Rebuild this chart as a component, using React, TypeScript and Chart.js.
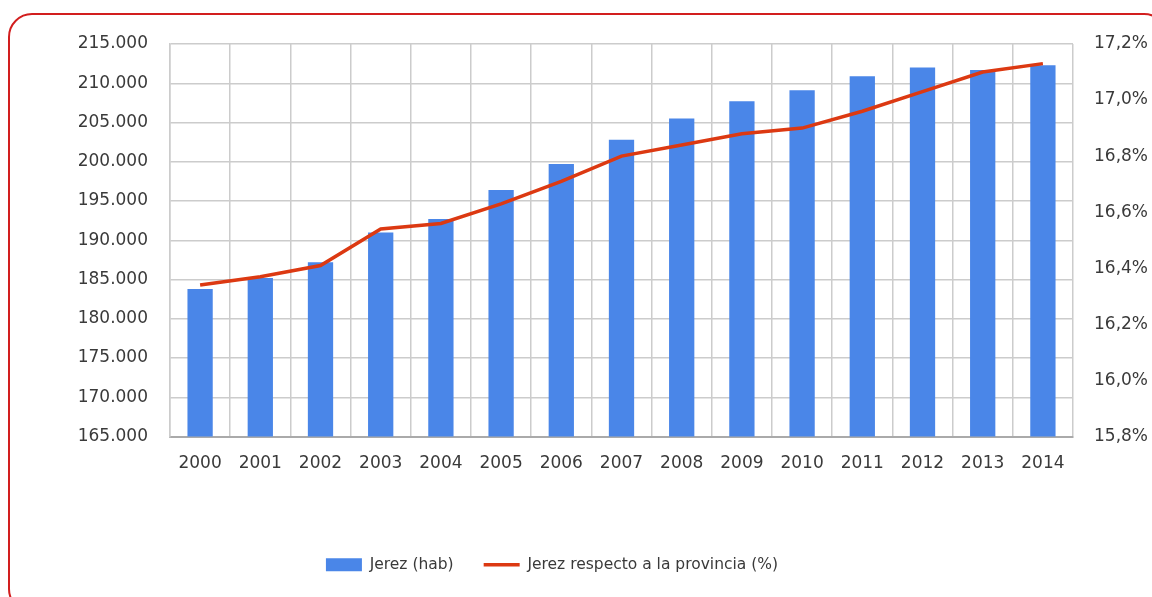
import { useEffect, useRef } from 'react';
import { Chart, registerables } from 'chart.js';

Chart.register(...registerables);

const years = ['2000', '2001', '2002', '2003', '2004', '2005', '2006', '2007', '2008', '2009', '2010', '2011', '2012', '2013', '2014'];
const population = [183800, 185200, 187200, 191000, 192700, 196400, 199700, 202800, 205500, 207700, 209100, 210900, 212000, 211700, 212300];
const sharePct = [16.34, 16.37, 16.41, 16.54, 16.56, 16.63, 16.71, 16.80, 16.84, 16.88, 16.90, 16.96, 17.03, 17.10, 17.13];

const popAxis = { min: 165000, max: 215000, step: 5000 };
const pctAxis = { min: 15.8, max: 17.2, step: 0.2 };

const seriesNames = ['Jerez (hab)', 'Jerez respecto a la provincia (%)'];

const BAR_COLOR = '#4a86e8';
const LINE_COLOR = '#dc3912';
const TEXT_COLOR = '#3a3a3a';
const GRID_COLOR = '#cccccc';
const FONT = 'DejaVu Sans';

function fmtThousands(v: number): string {
  const s = Math.round(v).toString();
  return s.replace(/\B(?=(\d{3})+(?!\d))/g, '.');
}

function fmtPct(v: number): string {
  return v.toFixed(1).replace('.', ',') + '%';
}

const legendShift = {
  id: 'legendShift',
  afterLayout(chart: any) {
    const l = chart.legend;
    if (l) {
      l.left -= 24;
      l.right -= 24;
    }
  },
};

export default function App() {
  const ref = useRef<HTMLCanvasElement | null>(null);

  useEffect(() => {
    if (!ref.current) return;
    const chart = new Chart(ref.current, {
      type: 'bar',
      data: {
        labels: years,
        datasets: [
          {
            type: 'bar',
            label: seriesNames[0],
            data: population,
            backgroundColor: BAR_COLOR,
            borderWidth: 0,
            yAxisID: 'y',
            categoryPercentage: 1,
            barPercentage: 0.42,
            order: 0,
          },
          {
            type: 'line',
            label: seriesNames[1],
            data: sharePct,
            borderColor: LINE_COLOR,
            backgroundColor: LINE_COLOR,
            borderWidth: 3.5,
            pointRadius: 0,
            pointHoverRadius: 0,
            tension: 0,
            yAxisID: 'y1',
            order: -1,
          },
        ],
      },
      options: {
        animation: false,
        responsive: true,
        maintainAspectRatio: false,
        layout: { padding: { left: 0, right: 0, top: 44, bottom: 14.5 } },
        plugins: {
          tooltip: { enabled: false },
          legend: {
            position: 'bottom',
            labels: {
              color: TEXT_COLOR,
              font: { family: FONT, size: 15.5 },
              usePointStyle: true,
              pointStyleWidth: 36,
              boxWidth: 36,
              boxHeight: 13,
              padding: 30,
              generateLabels: (c: any) => {
                const items = Chart.defaults.plugins.legend.labels.generateLabels(c);
                items.sort((a: any, b: any) => a.datasetIndex - b.datasetIndex);
                return items.map((it: any) => {
                  if (it.datasetIndex === 0) {
                    return { ...it, pointStyle: 'rect', fillStyle: BAR_COLOR, lineWidth: 0 };
                  }
                  return { ...it, pointStyle: 'line', strokeStyle: LINE_COLOR, lineWidth: 3.5 };
                });
              },
            },
          },
        },
        scales: {
          x: {
            offset: true,
            grid: { display: true, color: GRID_COLOR, lineWidth: 1.5, offset: true, drawTicks: false },
            border: { display: true, color: '#aaaaaa', width: 2 },
            ticks: { color: TEXT_COLOR, font: { family: FONT, size: 17 }, padding: 17, maxRotation: 0 },
            afterFit: (s: any) => {
              s.height = 90.5;
            },
          },
          y: {
            position: 'left',
            min: popAxis.min,
            max: popAxis.max,
            grid: { color: GRID_COLOR, lineWidth: 1.5, drawTicks: false },
            border: { display: true, color: GRID_COLOR, width: 1.5 },
            ticks: {
              stepSize: popAxis.step,
              color: TEXT_COLOR,
              font: { family: FONT, size: 17 },
              padding: 22,
              callback: (v: any) => fmtThousands(Number(v)),
            },
            afterFit: (s: any) => {
              s.width = 170;
            },
          },
          y1: {
            position: 'right',
            min: pctAxis.min,
            max: pctAxis.max,
            grid: { display: false, drawTicks: false },
            border: { display: false },
            ticks: {
              stepSize: pctAxis.step,
              color: TEXT_COLOR,
              font: { family: FONT, size: 17 },
              padding: 21,
              callback: (v: any) => fmtPct(Number(v)),
            },
            afterFit: (s: any) => {
              s.width = 79;
            },
          },
        },
      } as any,
      plugins: [legendShift],
    });
    return () => chart.destroy();
  }, []);

  return (
    <div style={{ position: 'fixed', left: 0, top: 0, width: 1152, height: 597, overflow: 'hidden', background: '#ffffff' }}>
      <div
        style={{
          position: 'absolute',
          left: 8,
          top: 13,
          width: 1160,
          height: 600,
          border: '2px solid #d21e1e',
          borderRadius: 24,
          boxSizing: 'border-box',
        }}
      />
      <div style={{ position: 'absolute', left: 0, top: 0, width: 1152, height: 597 }}>
        <canvas ref={ref} />
      </div>
    </div>
  );
}
